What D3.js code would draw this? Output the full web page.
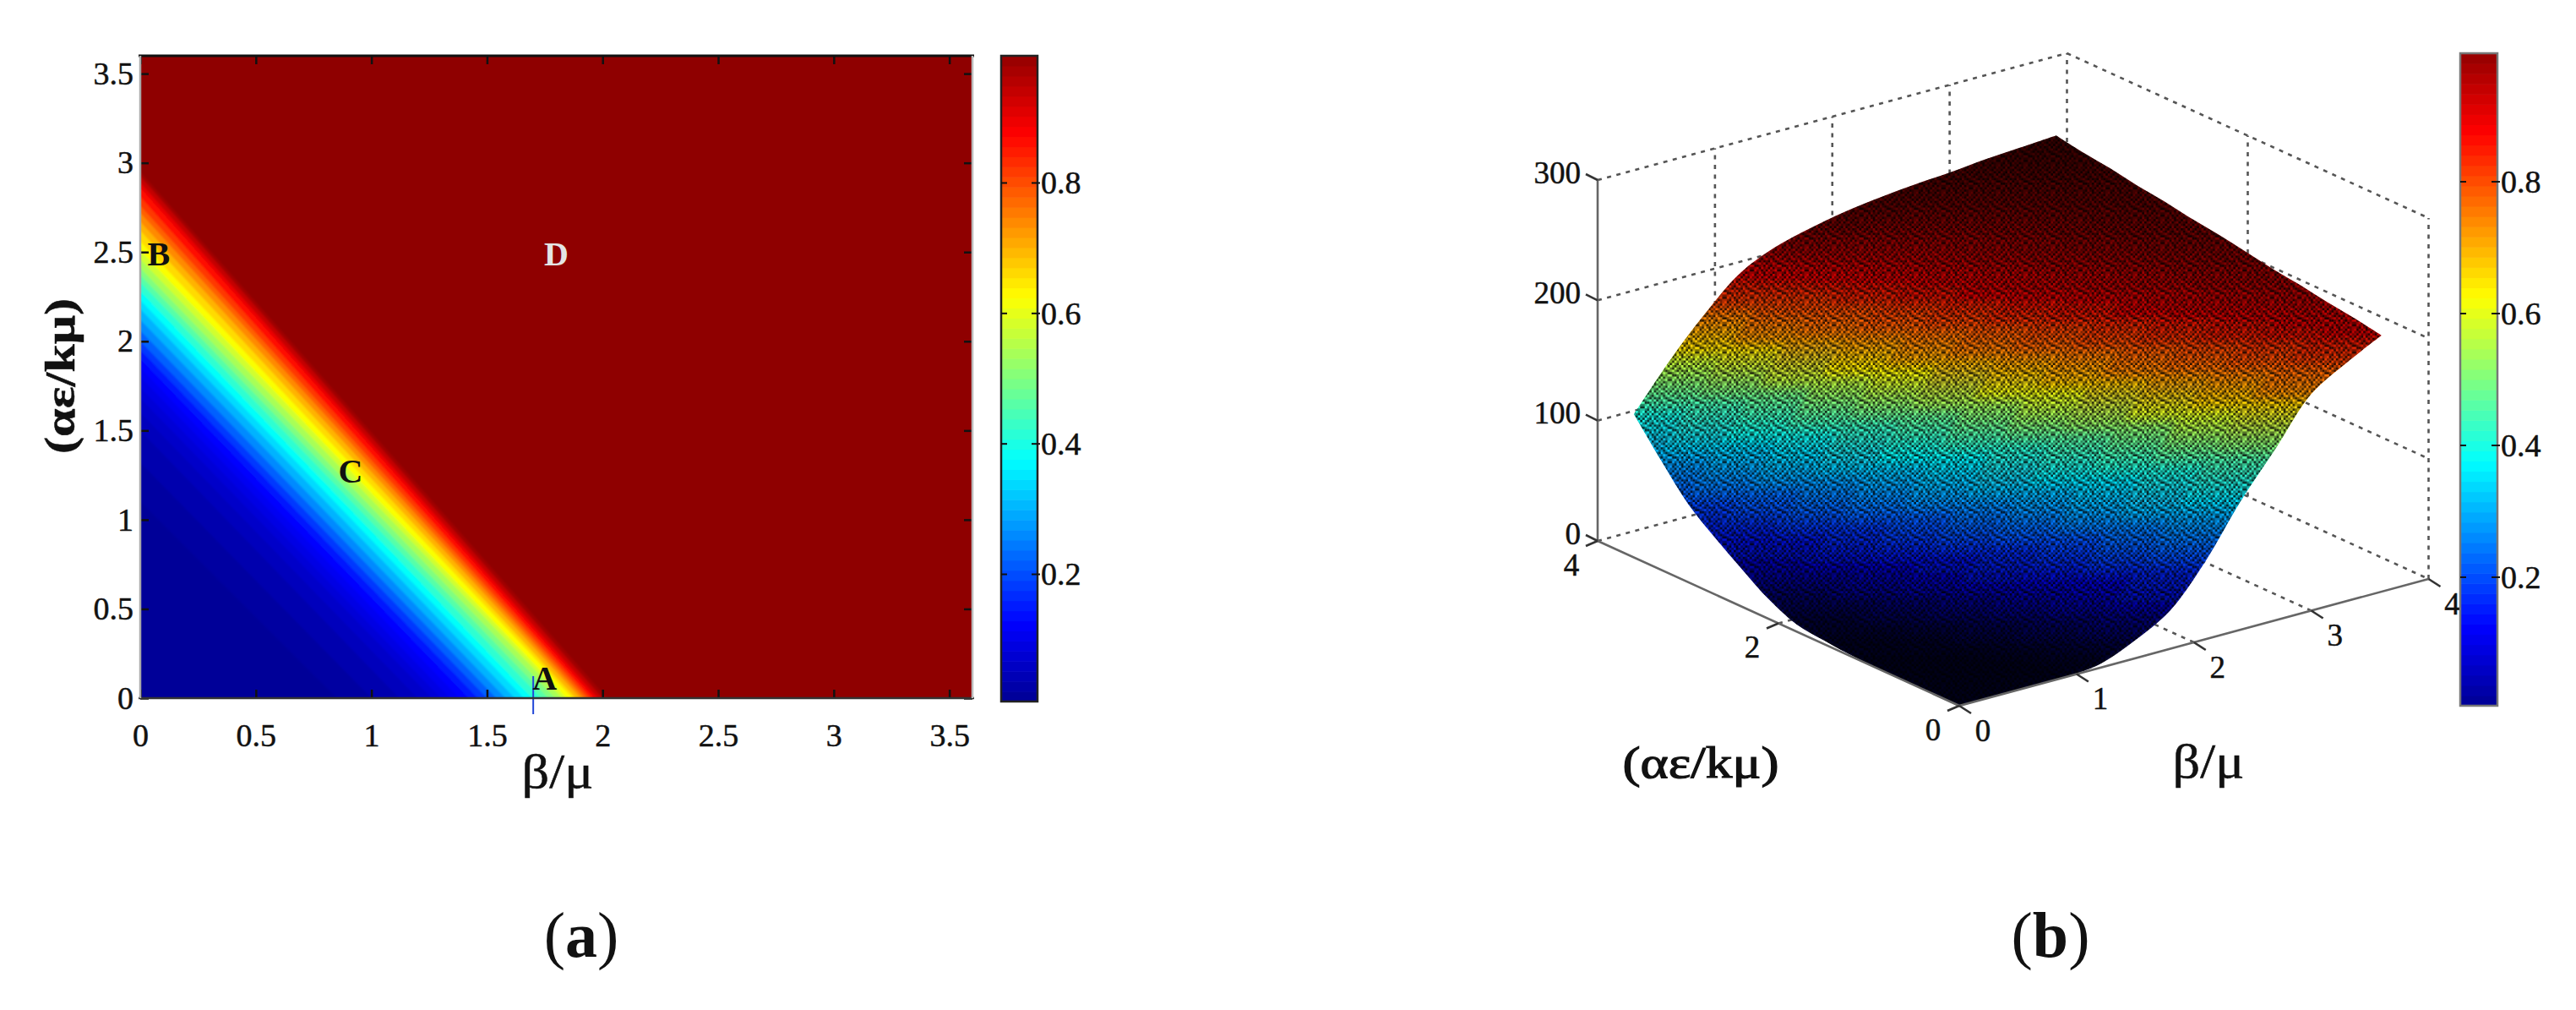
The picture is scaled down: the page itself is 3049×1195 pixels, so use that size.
<!DOCTYPE html>
<html>
<head>
<meta charset="utf-8">
<script src="https://cdn.jsdelivr.net/npm/d3@7/dist/d3.min.js"></script>
<style>
  body { margin: 0; background: #fff; }
  text { font-family: "Liberation Serif", serif; fill: #111; stroke: #111; stroke-width: 0.5px; }
</style>
</head>
<body>
<svg id="chart" width="3049" height="1195"></svg>
<script>
// colour map of both colorbars
const jetStops = [0, 0.125, 0.375, 0.625, 0.875, 1]
const jetColors = ['#00008f', '#0000ff', '#00ffff', '#ffff00', '#ff0000', '#8f0000']

// panel (a): contour levels, with where each one meets the two axes
const levelValues = [0.01, 0.02, 0.035, 0.05, 0.065, 0.08, 0.095, 0.11, 0.125, 0.15, 0.18, 0.22, 0.26, 0.30, 0.34, 0.38,
  0.42, 0.46, 0.50, 0.54, 0.58, 0.62, 0.66, 0.70, 0.74, 0.78, 0.82, 0.86, 0.90, 0.94, 0.98]
const levelBeta = [0.85, 1.0, 1.12, 1.2, 1.26, 1.3, 1.34, 1.38, 1.42, 1.46, 1.5, 1.54, 1.58, 1.62, 1.66, 1.695,
  1.735, 1.765, 1.795, 1.825, 1.845, 1.87, 1.885, 1.905, 1.92, 1.935, 1.95, 1.965, 1.98, 2.0, 2.02]
const levelAlpha = [1.1, 1.32, 1.5, 1.6, 1.68, 1.74, 1.8, 1.85, 1.9, 1.95, 2.0, 2.06, 2.12, 2.18, 2.23, 2.28,
  2.33, 2.37, 2.41, 2.46, 2.51, 2.56, 2.62, 2.67, 2.72, 2.76, 2.81, 2.86, 2.89, 2.925, 2.95]
const heatTicks = [0, 0.5, 1, 1.5, 2, 2.5, 3, 3.5]
const barTicks = [0.2, 0.4, 0.6, 0.8]
const pointLabels = [
  { name: 'A', beta: 1.75, alpha: 0.11, fill: '#111' },
  { name: 'B', beta: 0.08, alpha: 2.49, fill: '#111' },
  { name: 'C', beta: 0.91, alpha: 1.27, fill: '#111' },
  { name: 'D', beta: 1.8, alpha: 2.49, fill: '#e4e4e4' }
]
const cursorBeta = 1.7

// panel (b): surface heights, rows are alpha, columns are beta
const gridAxis = [0, 0.3, 0.6, 0.9, 1.2, 1.5, 1.8, 2.1, 2.4, 2.7, 3.0, 3.3, 3.6]
const surfaceZ = [
  [0, 0, 0, 0, 3, 15, 32, 65, 107, 143, 180, 198, 213],
  [0, 0, 0, 1, 11, 26, 54, 93, 132, 169, 192, 209, 217],
  [0, 0, 0, 7, 21, 44, 81, 121, 158, 187, 204, 216, 220],
  [0, 0, 4, 16, 35, 68, 110, 146, 182, 199, 214, 221, 224],
  [1, 2, 12, 28, 57, 97, 135, 172, 194, 210, 219, 225, 227],
  [3, 8, 23, 46, 84, 124, 161, 188, 205, 217, 223, 229, 231],
  [6, 18, 37, 72, 113, 149, 183, 201, 214, 221, 227, 232, 235],
  [16, 30, 60, 101, 138, 175, 195, 211, 219, 225, 230, 235, 238],
  [31, 49, 88, 127, 164, 190, 207, 217, 223, 229, 234, 239, 242],
  [47, 75, 116, 153, 185, 202, 215, 222, 227, 232, 237, 242, 245],
  [65, 104, 141, 178, 197, 212, 220, 226, 231, 236, 241, 246, 249],
  [91, 130, 167, 198, 212, 222, 228, 233, 238, 242, 246, 250, 252],
  [119, 155, 186, 212, 226, 234, 240, 244, 247, 249, 252, 254, 256]
]
// surface colour and mesh darkness
const zStops = [0, 67, 108, 143, 178, 213, 256]
const zColorValues = [0, 0.2, 0.35, 0.5, 0.72, 0.88, 0.95]
const shadeStops = [0, 30, 70, 150, 190, 215, 235, 256]
const shadeValues = [0.2, 0.7, 1, 1, 1, 0.8, 0.5, 0.3]
const zTicks = [0, 100, 200, 300]
const betaTicks3d = [0, 1, 2, 3, 4]
const alphaTicks3d = [0, 2, 4]
// darkness of the mesh pixels, 0 = full colour, 3 = nearly black
const meshRows = [
  '031203213021', '213031031230', '130212302302', '302303120131',
  '023120313203', '230231021310', '102313230232', '321020312013',
  '033213023120', '210302130312', '302131302103', '123023021321'
]
const meshAlpha = [0, 0.25, 0.5, 0.82]

const svg = d3.select('#chart')
const defs = svg.append('defs')
const jet = d3.scaleLinear().domain(jetStops).range(jetColors).clamp(true)

function addBlur (id, dev) {
  defs.append('filter').attr('id', id).attr('filterUnits', 'userSpaceOnUse')
      .attr('x', 0).attr('y', 0).attr('width', 3049).attr('height', 1195)
    .append('feGaussianBlur').attr('stdDeviation', dev)
}
addBlur('soft', 1.3)
addBlur('softer', 3)
addBlur('grain', 0.6)

function addColorbar (x, w, top, bottom, frame) {
  const y = d3.scaleLinear().domain([0.005, 0.995]).range([bottom, top])
  const bands = d3.range(64).map(i => 0.005 + (i + 0.5) * 0.99 / 64)
  const g = svg.append('g')
  g.selectAll('rect').data(bands).join('rect')
      .attr('x', x).attr('width', w)
      .attr('y', d => y(d + 0.99 / 128))
      .attr('height', (bottom - top) / 64 + 0.6)
      .attr('fill', d => jet(d))
  g.append('rect').attr('x', x).attr('y', top).attr('width', w).attr('height', bottom - top)
      .attr('fill', 'none').attr('stroke', frame).attr('stroke-width', 2.5)
  barTicks.forEach(t => {
    g.append('line').attr('x1', x).attr('x2', x + 7).attr('y1', y(t)).attr('y2', y(t)).attr('stroke', '#111').attr('stroke-width', 2)
    g.append('line').attr('x1', x + w - 7).attr('x2', x + w + 3).attr('y1', y(t)).attr('y2', y(t)).attr('stroke', '#111').attr('stroke-width', 2)
    g.append('text').attr('x', x + w + 4).attr('y', y(t)).attr('dy', '0.34em')
        .style('font-size', '38px').text(t)
  })
}

// ---- panel (a)
const heat = { left: 166, right: 1151, top: 66, bottom: 826 }
const hx = d3.scaleLinear().domain([0, 3.6]).range([heat.left, heat.right])
const hy = d3.scaleLinear().domain([0, 3.6]).range([heat.bottom, heat.top])

defs.append('clipPath').attr('id', 'heatClip').append('rect')
    .attr('x', heat.left).attr('y', heat.top)
    .attr('width', heat.right - heat.left).attr('height', heat.bottom - heat.top)

const heatG = svg.append('g').attr('clip-path', 'url(#heatClip)')
const heatInner = heatG.append('g').attr('filter', 'url(#soft)')
heatInner.append('rect').attr('x', heat.left - 10).attr('y', heat.top - 10)
    .attr('width', heat.right - heat.left + 20).attr('height', heat.bottom - heat.top + 20)
    .attr('fill', '#8f0000')
heatInner.selectAll('polygon')
  .data(d3.range(levelValues.length).reverse())
  .join('polygon')
    .attr('points', i => [[-0.1, -0.1], [levelBeta[i] + 0.1 * levelBeta[i] / levelAlpha[i], -0.1], [-0.1, levelAlpha[i] + 0.1 * levelAlpha[i] / levelBeta[i]]]
      .map(p => [hx(p[0]), hy(p[1])].join(',')).join(' '))
    .attr('fill', i => jet(levelValues[i]))

svg.append('line').attr('x1', hx(cursorBeta)).attr('x2', hx(cursorBeta))
    .attr('y1', heat.bottom - 26).attr('y2', heat.bottom + 19)
    .attr('stroke', '#2347d8').attr('stroke-width', 2)

svg.selectAll('text.point').data(pointLabels).join('text')
    .attr('class', 'point')
    .attr('x', d => hx(d.beta)).attr('y', d => hy(d.alpha)).attr('dy', '0.34em')
    .attr('text-anchor', 'middle')
    .style('font-size', '40px').style('font-weight', 'bold')
    .style('fill', d => d.fill).style('stroke', 'none')
    .text(d => d.name)

function styleAxis (g) {
  g.select('.domain').remove()
  g.selectAll('.tick line').attr('stroke', '#111').attr('stroke-width', 2.5)
  g.selectAll('.tick text').style('font-size', '38px').style('fill', '#111')
}
const fmt = d3.format('~g')
svg.append('g').attr('transform', `translate(0,${heat.bottom})`)
    .call(d3.axisBottom(hx).tickValues(heatTicks).tickFormat(fmt).tickSize(-10).tickPadding(30))
    .call(styleAxis)
svg.append('g').attr('transform', `translate(${heat.left},0)`)
    .call(d3.axisLeft(hy).tickValues(heatTicks).tickFormat(fmt).tickSize(-10).tickPadding(8))
    .call(styleAxis)
svg.append('g').attr('transform', `translate(0,${heat.top})`)
    .call(d3.axisTop(hx).tickValues(heatTicks).tickFormat('').tickSize(-10))
    .call(styleAxis)
svg.append('g').attr('transform', `translate(${heat.right},0)`)
    .call(d3.axisRight(hy).tickValues(heatTicks).tickFormat('').tickSize(-10))
    .call(styleAxis)

svg.append('line').attr('x1', heat.left - 2).attr('x2', heat.right + 2).attr('y1', heat.top).attr('y2', heat.top).attr('stroke', '#111').attr('stroke-width', 3)
svg.append('line').attr('x1', heat.left - 2).attr('x2', heat.right + 2).attr('y1', heat.bottom).attr('y2', heat.bottom).attr('stroke', '#333').attr('stroke-width', 2.5)
svg.append('line').attr('x1', heat.left).attr('x2', heat.left).attr('y1', heat.top).attr('y2', heat.bottom).attr('stroke', '#aaa').attr('stroke-width', 2.5)
svg.append('line').attr('x1', heat.right).attr('x2', heat.right).attr('y1', heat.top).attr('y2', heat.bottom).attr('stroke', '#bbb').attr('stroke-width', 2.5)

svg.append('text').attr('x', 660).attr('y', 932).attr('text-anchor', 'middle')
    .attr('textLength', 85).attr('lengthAdjust', 'spacingAndGlyphs')
    .style('font-size', '56px').text('β/μ')
svg.append('text').attr('transform', 'translate(88,445) rotate(-90)').attr('text-anchor', 'middle')
    .attr('textLength', 184).attr('lengthAdjust', 'spacingAndGlyphs')
    .style('font-size', '50px').style('font-weight', 'bold').text('(αε/kμ)')

addColorbar(1185, 43, heat.top, 830, '#222')

// ---- panel (b)
const frontCorner = [2319, 835]
const sxBeta = d3.scaleLinear().domain([0, 4]).range([0, 555.5])
const sxAlpha = d3.scaleLinear().domain([0, 4]).range([0, -428])
const syBeta = d3.scaleLinear().domain([0, 4]).range([0, -150])
const syAlpha = d3.scaleLinear().domain([0, 4]).range([0, -195])
const syZ = d3.scaleLinear().domain([0, 300]).range([0, -427])
const project = (b, a, z) => [
  frontCorner[0] + sxBeta(b) + sxAlpha(a),
  frontCorner[1] + syBeta(b) + syAlpha(a) + syZ(z)
]
const seg = d3.line()

function dashed (g, a, b) {
  g.append('path').attr('d', seg([a, b])).attr('fill', 'none')
      .attr('stroke', '#555').attr('stroke-width', 2.6).attr('stroke-dasharray', '5 6.5')
}
const walls = svg.append('g')
zTicks.forEach(z => {
  dashed(walls, project(0, 4, z), project(4, 4, z))
  dashed(walls, project(4, 4, z), project(4, 0, z))
})
betaTicks3d.slice(1).forEach(b => dashed(walls, project(b, 4, 0), project(b, 4, 300)))
alphaTicks3d.slice(0, 2).forEach(a => dashed(walls, project(4, a, 0), project(4, a, 300)))
betaTicks3d.slice(1, 4).forEach(b => dashed(walls, project(b, 0, 0), project(b, 4, 0)))
alphaTicks3d.slice(1, 2).forEach(a => dashed(walls, project(0, a, 0), project(4, a, 0)))

// surface outline, used as clip so the blurred quads keep a sharp edge
const last = gridAxis.length - 1
const nodePt = (i, j) => project(gridAxis[j], gridAxis[i], surfaceZ[i][j])
const sides = [
  gridAxis.map((_, j) => nodePt(0, j)),
  gridAxis.map((_, i) => nodePt(i, last)),
  gridAxis.map((_, j) => nodePt(last, last - j)),
  gridAxis.map((_, i) => nodePt(last - i, 0))
]
const sideLine = d3.line().curve(d3.curveCatmullRom)
const outlineD = sides.map((s, k) => {
  const d = sideLine(s)
  return k === 0 ? d : 'L' + d.slice(1)
}).join('') + 'Z'
defs.append('clipPath').attr('id', 'surfClip').append('path').attr('d', outlineD)

const zValue = d3.scaleLinear().domain(zStops).range(zColorValues).clamp(true)
const zShade = d3.scaleLinear().domain(shadeStops).range(shadeValues).clamp(true)
const surfColor = z => d3.interpolateRgb('#000', jet(zValue(z)))(zShade(z))

// each cell is shaded top to bottom through the colours of its four corners
const cells = []
for (let i = last - 1; i >= 0; i--) {
  for (let j = last - 1; j >= 0; j--) {
    const corners = [[i, j], [i + 1, j], [i + 1, j + 1], [i, j + 1]]
      .map(c => ({ p: nodePt(c[0], c[1]), z: surfaceZ[c[0]][c[1]] }))
    const y0 = d3.min(corners, c => c.p[1])
    const y1 = d3.max(corners, c => c.p[1])
    const id = `cell${i}_${j}`
    const grad = defs.append('linearGradient').attr('id', id).attr('gradientUnits', 'userSpaceOnUse')
        .attr('x1', 0).attr('x2', 0).attr('y1', y0).attr('y2', y1)
    corners.slice().sort((a, b) => d3.ascending(a.p[1], b.p[1])).forEach(c => {
      grad.append('stop').attr('offset', (c.p[1] - y0) / (y1 - y0)).attr('stop-color', surfColor(c.z))
    })
    cells.push({ id, pts: corners.map(c => c.p) })
  }
}

const mesh = defs.append('pattern').attr('id', 'mesh').attr('patternUnits', 'userSpaceOnUse')
    .attr('width', 12 * 2.7).attr('height', 12 * 2.7)
meshRows.forEach((row, r) => {
  row.split('').forEach((c, k) => {
    mesh.append('rect').attr('x', k * 2.7).attr('y', r * 2.7).attr('width', 2.7).attr('height', 2.7)
        .attr('fill', '#000').attr('fill-opacity', meshAlpha[+c])
  })
})

const surf = svg.append('g').attr('clip-path', 'url(#surfClip)')
const quads = surf.append('g').attr('filter', 'url(#softer)')
quads.selectAll('path').data(cells).join('path')
    .attr('d', d => d3.line()(d.pts) + 'Z')
    .attr('fill', d => `url(#${d.id})`)
    .attr('stroke', d => `url(#${d.id})`)
    .attr('stroke-width', 10)
    .attr('stroke-linejoin', 'round')
surf.append('path').attr('d', outlineD).attr('fill', 'url(#mesh)').attr('filter', 'url(#grain)')

// solid axes and ticks
const axes = svg.append('g').attr('fill', 'none').attr('stroke', '#666').attr('stroke-width', 2.6)
axes.append('path').attr('d', seg([project(0, 4, 0), project(0, 4, 300)]))
axes.append('path').attr('d', seg([project(0, 4, 0), project(0, 0, 0), project(4, 0, 0)]))
zTicks.forEach(z => {
  const p = project(0, 4, z)
  axes.append('path').attr('d', seg([p, [p[0] - 14, p[1] - 7]])).attr('stroke', '#333')
})
betaTicks3d.forEach(b => {
  const p = project(b, 0, 0)
  axes.append('path').attr('d', seg([p, [p[0] + 14, p[1] + 9]])).attr('stroke', '#333')
})
alphaTicks3d.forEach(a => {
  const p = project(0, a, 0)
  axes.append('path').attr('d', seg([p, [p[0] - 14, p[1] + 6]])).attr('stroke', '#333')
})

const tick3d = svg.append('g').style('font-size', '37px').attr('text-anchor', 'middle')
zTicks.forEach(z => {
  const p = project(0, 4, z)
  tick3d.append('text').attr('x', p[0] - 20).attr('y', p[1] - 9).attr('dy', '0.34em')
      .attr('text-anchor', 'end').text(z)
})
betaTicks3d.forEach(b => {
  const p = project(b, 0, 0)
  tick3d.append('text').attr('x', p[0] + 28).attr('y', p[1] + 29).attr('dy', '0.34em').text(b)
})
alphaTicks3d.forEach(a => {
  const p = project(0, a, 0)
  tick3d.append('text').attr('x', p[0] - 31).attr('y', p[1] + 28).attr('dy', '0.34em').text(a)
})

svg.append('text').attr('x', 2013).attr('y', 920).attr('text-anchor', 'middle')
    .attr('textLength', 185).attr('lengthAdjust', 'spacingAndGlyphs')
    .style('font-size', '52px').style('stroke-width', '1.2px').text('(αε/kμ)')
svg.append('text').attr('x', 2614).attr('y', 920).attr('text-anchor', 'middle')
    .attr('textLength', 85).attr('lengthAdjust', 'spacingAndGlyphs')
    .style('font-size', '56px').text('β/μ')

addColorbar(2912, 44, 63, 835, '#777')

// ---- captions
function caption (x, letter) {
  const t = svg.append('text').attr('x', x).attr('y', 1132).attr('text-anchor', 'middle')
      .style('font-size', '76px').style('stroke', 'none')
  t.append('tspan').text('(')
  t.append('tspan').style('font-weight', 'bold').text(letter)
  t.append('tspan').text(')')
}
caption(688, 'a')
caption(2427, 'b')
</script>
</body>
</html>
